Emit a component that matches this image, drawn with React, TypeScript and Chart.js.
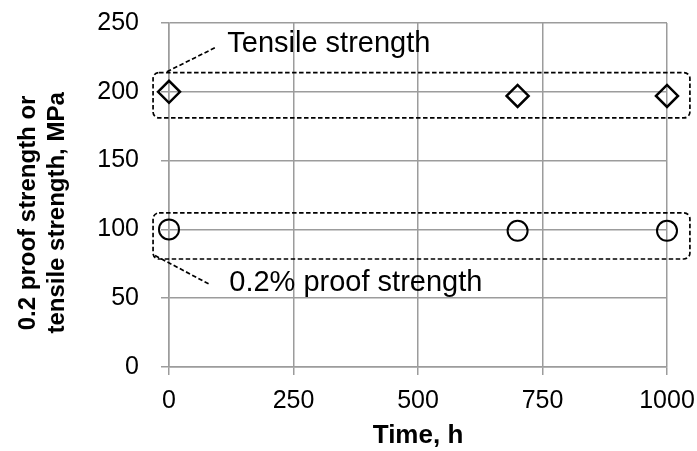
import React, { useEffect, useRef } from 'react';
import { Chart, registerables } from 'chart.js';

Chart.register(...registerables);

// ---- data ----
const timeHours = [0, 700, 1000];
const tensileStrength = [200, 197, 197];
const proofStrength = [100, 99, 99];
const xTickValues = [0, 250, 500, 750, 1000];
const yTickValues = [0, 50, 100, 150, 200, 250];
const xTitle = 'Time, h';
const yTitle = ['0.2 proof strength or', 'tensile strength, MPa'];
const tensileLabel = 'Tensile strength';
const proofLabel = '0.2% proof strength';

// annotation geometry in data units
const tensileBox = [-32, 181, 1046, 214];
const proofBox = [-32, 78.5, 1046, 112];
const tensileLeader = [92, 232, -6, 214.3];
const proofLeader = [-28, 81, 82, 60];
const tensileLabelPos = [117, 234.5];
const proofLabelPos = [121, 61];
// y-axis title centre (data value along the axis)
const yTitleCentre = 112;

const FONT = '"Liberation Sans", Arial, Helvetica, sans-serif';
const GRID = '#9c9c9c';

const annotationPlugin = {
  id: 'annotations',
  afterDatasetsDraw(chart: any) {
    const { ctx } = chart;
    const xs = chart.scales.x;
    const ys = chart.scales.y;
    const px = (v: number) => xs.getPixelForValue(v);
    const py = (v: number) => ys.getPixelForValue(v);
    ctx.save();
    ctx.strokeStyle = '#000';
    ctx.lineWidth = 1.7;
    ctx.setLineDash([4.5, 2.5]);
    for (const b of [tensileBox, proofBox]) {
      const x0 = px(b[0]);
      const x1 = px(b[2]);
      const y0 = py(b[3]);
      const y1 = py(b[1]);
      ctx.beginPath();
      ctx.roundRect(x0, y0, x1 - x0, y1 - y0, 6);
      ctx.stroke();
    }
    for (const l of [tensileLeader, proofLeader]) {
      ctx.beginPath();
      ctx.moveTo(px(l[0]), py(l[1]));
      ctx.lineTo(px(l[2]), py(l[3]));
      ctx.stroke();
    }
    ctx.setLineDash([]);
    ctx.fillStyle = '#000';
    ctx.font = `29px ${FONT}`;
    ctx.textAlign = 'left';
    ctx.textBaseline = 'middle';
    ctx.fillText(tensileLabel, px(tensileLabelPos[0]), py(tensileLabelPos[1]));
    ctx.fillText(proofLabel, px(proofLabelPos[0]), py(proofLabelPos[1]));

    // y-axis title (two lines, rotated)
    ctx.save();
    ctx.translate(0, py(yTitleCentre));
    ctx.rotate(-Math.PI / 2);
    ctx.font = `bold 24px ${FONT}`;
    ctx.textAlign = 'center';
    ctx.textBaseline = 'middle';
    ctx.fillText(yTitle[0], 0, 28);
    ctx.fillText(yTitle[1], 0, 57);
    ctx.restore();
    ctx.restore();
  },
};

export default function App() {
  const ref = useRef<HTMLCanvasElement | null>(null);

  useEffect(() => {
    document.body.style.margin = '0';
    const canvas = ref.current;
    if (!canvas) return;
    const chart = new Chart(canvas, {
      type: 'scatter',
      data: {
        datasets: [
          {
            label: tensileLabel,
            data: timeHours.map((t, i) => ({ x: t, y: tensileStrength[i] })),
            pointStyle: 'rectRot',
            pointRadius: 11,
            borderWidth: 2.5,
            borderColor: '#000',
            backgroundColor: 'rgba(0,0,0,0)',
            showLine: false,
            clip: false,
          },
          {
            label: proofLabel,
            data: timeHours.map((t, i) => ({ x: t, y: proofStrength[i] })),
            pointStyle: 'circle',
            pointRadius: 10,
            borderWidth: 2,
            borderColor: '#000',
            backgroundColor: 'rgba(0,0,0,0)',
            showLine: false,
            clip: false,
          },
        ],
      },
      options: {
        animation: false,
        responsive: false,
        devicePixelRatio: 1,
        layout: { padding: { left: 0, right: 30, top: 23, bottom: 0 } },
        plugins: {
          legend: { display: false },
          tooltip: { enabled: false },
        },
        scales: {
          x: {
            type: 'linear',
            min: xTickValues[0],
            max: xTickValues[xTickValues.length - 1],
            afterFit: (s: any) => {
              s.height = 84;
              s.paddingLeft = 0;
              s.paddingRight = 0;
            },
            afterBuildTicks: (s: any) => {
              s.ticks = xTickValues.map((v) => ({ value: v }));
            },
            ticks: {
              color: '#000',
              font: { family: FONT, size: 25 },
              padding: 11,
              maxRotation: 0,
              callback: (v: any) => String(v),
            },
            grid: {
              color: GRID,
              lineWidth: 1.5,
              tickLength: 8,
              tickColor: GRID,
            },
            border: { color: GRID, width: 1.5 },
            title: {
              display: true,
              text: xTitle,
              color: '#000',
              font: { family: FONT, size: 26, weight: 'bold' },
              padding: { top: 0, bottom: 0 },
            },
          },
          y: {
            type: 'linear',
            min: yTickValues[0],
            max: yTickValues[yTickValues.length - 1],
            afterFit: (s: any) => {
              s.width = 169;
              s.paddingTop = 0;
              s.paddingBottom = 0;
            },
            afterBuildTicks: (s: any) => {
              s.ticks = yTickValues.map((v) => ({ value: v }));
            },
            ticks: {
              color: '#000',
              font: { family: FONT, size: 25 },
              padding: 22,
              callback: (v: any) => String(v),
            },
            grid: {
              color: GRID,
              lineWidth: 1.5,
              tickLength: 8,
              tickColor: GRID,
            },
            border: { color: GRID, width: 1.5 },
            title: { display: false },
          },
        },
      },
      plugins: [annotationPlugin],
    } as any);
    return () => chart.destroy();
  }, []);

  return (
    <div style={{ width: 697, height: 451 }}>
      <canvas ref={ref} width={697} height={451} style={{ display: 'block' }} />
    </div>
  );
}
